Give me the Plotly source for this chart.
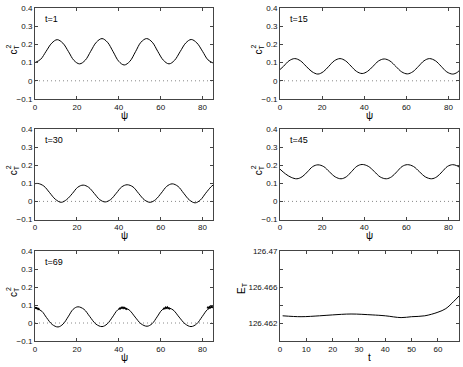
import plotly.graph_objects as go

# ---- data ----
psi1 = [0, 2.7, 5.3, 8.0, 10.6, 13.3, 16.0, 18.6, 21.3, 24.0, 26.6, 29.3, 32.0, 34.6, 37.3, 40.0, 42.6,
        45.3, 48.0, 50.6, 53.3, 56.0, 58.6, 61.3, 64.0, 66.6, 69.3, 72.0, 74.6, 77.3, 80.0, 82.6, 85.0]
c1 = [0.100, 0.118, 0.162, 0.207, 0.226, 0.207, 0.160, 0.112, 0.093, 0.113, 0.162, 0.212, 0.232, 0.212, 0.160, 0.107, 0.087,
      0.107, 0.160, 0.212, 0.232, 0.212, 0.162, 0.113, 0.093, 0.112, 0.160, 0.208, 0.227, 0.208, 0.162, 0.115, 0.098]

psi2 = [0, 1.7, 4.3, 7.0, 9.7, 12.4, 15.2, 18.0, 20.6, 23.2, 25.8, 28.5, 31.1, 33.7, 36.3, 39.0, 41.6,
        44.2, 46.8, 49.5, 52.2, 55.0, 57.8, 60.5, 63.1, 65.8, 68.4, 71.0, 73.8, 76.5, 79.2, 82.0, 84.0, 85.0]
c2 = [0.062, 0.080, 0.110, 0.122, 0.110, 0.080, 0.050, 0.037, 0.050, 0.080, 0.110, 0.122, 0.110, 0.081, 0.052, 0.040, 0.052,
      0.080, 0.109, 0.120, 0.109, 0.079, 0.049, 0.038, 0.050, 0.080, 0.110, 0.122, 0.110, 0.080, 0.049, 0.037, 0.045, 0.055]

psi3 = [0, 1.5, 4.2, 7.0, 9.7, 12.5, 15.1, 17.8, 20.4, 23.0, 25.6, 28.3, 30.9, 33.5, 36.1, 38.8, 41.4,
        44.0, 46.8, 49.5, 52.3, 55.0, 57.6, 60.3, 62.9, 65.5, 68.3, 71.0, 73.8, 76.5, 79.0, 81.5, 84.0, 85.0]
c3 = [0.098, 0.099, 0.085, 0.048, 0.012, -0.005, 0.010, 0.043, 0.078, 0.090, 0.078, 0.044, 0.010, -0.003, 0.010, 0.045, 0.080,
      0.092, 0.080, 0.044, 0.008, -0.005, 0.010, 0.046, 0.083, 0.097, 0.083, 0.045, 0.007, -0.008, 0.008, 0.045, 0.080, 0.090]

psi4 = [0, 2.6, 5.3, 8.0, 10.5, 13.0, 15.5, 18.0, 20.8, 23.5, 26.3, 29.0, 31.5, 34.0, 36.5, 39.0, 41.9,
        44.8, 47.6, 50.5, 53.0, 55.5, 58.0, 60.5, 63.4, 66.2, 69.1, 72.0, 74.5, 77.0, 79.5, 82.0, 84.0, 85.0]
c4 = [0.178, 0.152, 0.133, 0.125, 0.136, 0.163, 0.192, 0.202, 0.192, 0.163, 0.135, 0.125, 0.136, 0.165, 0.194, 0.204, 0.194,
      0.165, 0.135, 0.125, 0.136, 0.164, 0.193, 0.203, 0.193, 0.164, 0.135, 0.125, 0.136, 0.164, 0.193, 0.203, 0.197, 0.190]

psi5 = [0, 1.0, 3.3, 5.5, 8.2, 11.0, 13.4, 15.8, 18.2, 20.5, 23.4, 26.2, 29.1, 32.0, 34.5, 37.0, 39.5,
        42.0, 44.9, 47.8, 50.6, 53.5, 55.9, 58.3, 60.7, 63.0, 65.9, 68.8, 71.7, 74.5, 77.2, 79.8, 82.4, 85.0]
c5 = [0.085, 0.080, 0.065, 0.030, -0.008, -0.022, -0.006, 0.034, 0.076, 0.090, 0.076, 0.035, -0.006, -0.020, -0.005, 0.033, 0.073,
      0.085, 0.073, 0.033, -0.004, -0.018, -0.004, 0.034, 0.073, 0.085, 0.073, 0.033, -0.005, -0.020, -0.005, 0.035, 0.075, 0.090]

# noisy bits near the peaks of t=69
psi5n = [0.0, 0.3, 0.6, 0.9, 1.2, 1.5, 1.8, 2.1, None,
         40.0, 40.4, 40.8, 41.2, 41.6, 42.0, 42.4, 42.8, 43.2, 43.6, 44.0, None,
         61.2, 61.6, 62.0, 62.4, 62.8, 63.2, 63.6, 64.0, 64.4, None,
         82.2, 82.6, 83.0, 83.4, 83.8, 84.2, 84.6, 85.0]
c5n = [0.089, 0.080, 0.087, 0.078, 0.084, 0.076, 0.080, 0.072, None,
       0.076, 0.082, 0.079, 0.087, 0.082, 0.088, 0.081, 0.086, 0.078, 0.080, 0.073, None,
       0.076, 0.082, 0.079, 0.088, 0.082, 0.089, 0.080, 0.083, 0.075, None,
       0.081, 0.088, 0.083, 0.091, 0.085, 0.092, 0.086, 0.091]

t6 = [1, 8, 15, 20, 27, 35, 40, 46, 50, 55, 60, 63, 66, 68]
E6 = [126.4628, 126.4627, 126.4628, 126.4629, 126.4630, 126.4629, 126.4628, 126.4626, 126.4627,
      126.4628, 126.4632, 126.4636, 126.4644, 126.4650]

labels = ["t=1", "t=15", "t=30", "t=45", "t=69"]
psi_ticks = [0, 20, 40, 60, 80]
c_ticks = [-0.1, 0, 0.1, 0.2, 0.3, 0.4]
c_ticktext = ["\u22120.1", "0", "0.1", "0.2", "0.3", "0.4"]
t_ticks = [0, 10, 20, 30, 40, 50, 60]
E_ticks = [126.46, 126.462, 126.464, 126.466, 126.468, 126.47]
E_ticktext = ["", "126.462", "", "126.466", "", "126.47"]

W, H = 463, 367
cols = [(35, 213), (280, 459)]
rows = [(8, 99), (129, 219.5), (251, 341)]

FONT = "Liberation Sans, Arial, sans-serif"
fig = go.Figure()

panels = [(psi1, c1), (psi2, c2), (psi3, c3), (psi4, c4), (psi5, c5)]
layout = {}

def dom_x(c):
    return [cols[c][0] / W, cols[c][1] / W]

def dom_y(r):
    return [1 - rows[r][1] / H, 1 - rows[r][0] / H]

axis_common = dict(showline=True, mirror="ticks", linecolor="#444", linewidth=1,
                   ticks="inside", ticklen=3, tickcolor="#444", showgrid=False, zeroline=False,
                   tickfont=dict(family=FONT, size=8, color="#111"), automargin=False)

annotations = []
for i in range(6):
    r, c = divmod(i, 2)
    xa = "xaxis" if i == 0 else f"xaxis{i+1}"
    ya = "yaxis" if i == 0 else f"yaxis{i+1}"
    xref = "x" if i == 0 else f"x{i+1}"
    yref = "y" if i == 0 else f"y{i+1}"
    yc = (rows[r][0] + rows[r][1]) / 2
    if i < 5:
        px_, py_ = panels[i]
        fig.add_trace(go.Scatter(x=[0, 85], y=[0, 0], mode="lines",
                                 line=dict(color="#888", width=1, dash="1px,3px"),
                                 xaxis=xref, yaxis=yref, showlegend=False))
        fig.add_trace(go.Scatter(x=px_, y=py_, mode="lines", line=dict(color="black", width=1, shape="spline", smoothing=1.0),
                                 xaxis=xref, yaxis=yref, showlegend=False))
        if i == 4:
            fig.add_trace(go.Scatter(x=psi5n, y=c5n, mode="lines", line=dict(color="black", width=1.3),
                                     xaxis=xref, yaxis=yref, showlegend=False, connectgaps=False))
        layout[xa] = dict(axis_common, domain=dom_x(c), range=[0, 85], tickvals=psi_ticks, anchor=yref)
        layout[ya] = dict(axis_common, domain=dom_y(r), range=[-0.1, 0.4], tickvals=c_ticks,
                          ticktext=c_ticktext, anchor=xref)
        annotations.append(dict(x=4, y=0.34, xref=xref, yref=yref, text=labels[i], showarrow=False,
                                xanchor="left", yanchor="middle", font=dict(family=FONT, size=9, color="black")))
        # y title: c with stacked T subscript and 2 superscript
        annotations.append(dict(x=(cols[c][0] - 21) / W, y=1 - (yc - 4) / H,
                                xref="paper", yref="paper", text="c<sub>T</sub>", showarrow=False, textangle=-90,
                                xanchor="center", yanchor="middle", font=dict(family=FONT, size=10, color="black")))
        annotations.append(dict(x=(cols[c][0] - 27) / W, y=1 - (yc - 7) / H,
                                xref="paper", yref="paper", text="2", showarrow=False, textangle=-90,
                                xanchor="center", yanchor="middle", font=dict(family=FONT, size=7, color="black")))
        xlab = "\u03c8"
    else:
        fig.add_trace(go.Scatter(x=t6, y=E6, mode="lines", line=dict(color="black", width=1, shape="spline"),
                                 xaxis=xref, yaxis=yref, showlegend=False))
        layout[xa] = dict(axis_common, domain=dom_x(c), range=[0, 68], tickvals=t_ticks, anchor=yref)
        layout[ya] = dict(axis_common, domain=dom_y(r), range=[126.46, 126.47], tickvals=E_ticks,
                          ticktext=E_ticktext, anchor=xref)
        annotations.append(dict(x=(cols[c][0] - 38) / W, y=1 - (yc - 8) / H,
                                xref="paper", yref="paper", text="E<sub>T</sub>", showarrow=False, textangle=-90,
                                xanchor="center", yanchor="middle", font=dict(family=FONT, size=10, color="black")))
        xlab = "t"
    # x title
    annotations.append(dict(x=(cols[c][0] + cols[c][1]) / 2 / W, y=1 - (rows[r][1] + 16) / H,
                            xref="paper", yref="paper", text=xlab, showarrow=False,
                            xanchor="center", yanchor="middle", font=dict(family=FONT, size=10, color="black")))

fig.update_layout(width=W, height=H, margin=dict(l=0, r=0, t=0, b=0),
                  paper_bgcolor="white", plot_bgcolor="white", showlegend=False,
                  annotations=annotations, **layout)
fig.write_html("out.html", config={"displayModeBar": False, "staticPlot": True},
               post_script="document.body.style.margin='0';document.body.style.overflow='hidden';")
